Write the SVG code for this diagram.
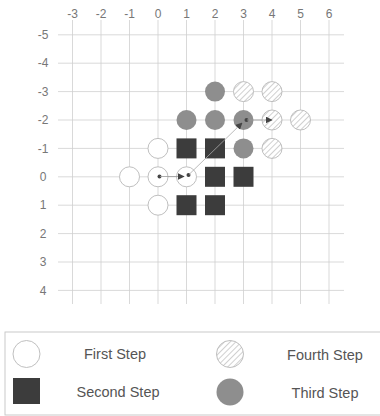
<svg xmlns="http://www.w3.org/2000/svg" width="380" height="416" viewBox="0 0 380 416">
<style>
.grid line{stroke:#cfcfcf;stroke-width:0.8}
.ax{font-family:"Liberation Sans",Arial,sans-serif;font-size:12px;fill:#777;text-anchor:middle}
.s1{fill:#fff;stroke:#b8b8b8;stroke-width:0.9}
.s2{fill:#3c3c3c}
.s3{fill:#8e8e8e}
.s4{fill:url(#hatch);stroke:#b8b8b8;stroke-width:0.9}
.lg{font-family:"Liberation Sans",Arial,sans-serif;font-size:14.5px;fill:#555;text-anchor:middle}
.dot{fill:#444}
</style>
<defs>
<pattern id="hatch" width="4" height="4" patternUnits="userSpaceOnUse" patternTransform="rotate(45)">
<rect width="4" height="4" fill="#fff"/>
<line x1="0" y1="0" x2="0" y2="4" stroke="#b0b0b0" stroke-width="1.2"/>
</pattern>
<marker id="ah" viewBox="0 0 10 10" refX="9" refY="5" markerWidth="7" markerHeight="7" markerUnits="userSpaceOnUse" orient="auto">
<path d="M0,0 L10,5 L0,10 z" fill="#444"/>
</marker>
</defs>
<rect width="380" height="416" fill="#fff"/>
<g class="grid">
<line x1="72.5" y1="20" x2="72.5" y2="304"/>
<line x1="101" y1="20" x2="101" y2="304"/>
<line x1="129.5" y1="20" x2="129.5" y2="304"/>
<line x1="158" y1="20" x2="158" y2="304"/>
<line x1="186.5" y1="20" x2="186.5" y2="304"/>
<line x1="215" y1="20" x2="215" y2="304"/>
<line x1="243.5" y1="20" x2="243.5" y2="304"/>
<line x1="272" y1="20" x2="272" y2="304"/>
<line x1="300.5" y1="20" x2="300.5" y2="304"/>
<line x1="329" y1="20" x2="329" y2="304"/>
<line x1="58" y1="34.8" x2="344" y2="34.8"/>
<line x1="58" y1="63.2" x2="344" y2="63.2"/>
<line x1="58" y1="91.6" x2="344" y2="91.6"/>
<line x1="58" y1="120" x2="344" y2="120"/>
<line x1="58" y1="148.4" x2="344" y2="148.4"/>
<line x1="58" y1="176.8" x2="344" y2="176.8"/>
<line x1="58" y1="205.2" x2="344" y2="205.2"/>
<line x1="58" y1="233.6" x2="344" y2="233.6"/>
<line x1="58" y1="262" x2="344" y2="262"/>
<line x1="58" y1="290.4" x2="344" y2="290.4"/>
</g>
<g id="axis-labels">
<text class="ax" x="72.5" y="17.5">-3</text>
<text class="ax" x="101" y="17.5">-2</text>
<text class="ax" x="129.5" y="17.5">-1</text>
<text class="ax" x="158" y="17.5">0</text>
<text class="ax" x="186.5" y="17.5">1</text>
<text class="ax" x="215" y="17.5">2</text>
<text class="ax" x="243.5" y="17.5">3</text>
<text class="ax" x="272" y="17.5">4</text>
<text class="ax" x="300.5" y="17.5">5</text>
<text class="ax" x="329" y="17.5">6</text>
<text class="ax" x="43" y="39">-5</text>
<text class="ax" x="43" y="67.4">-4</text>
<text class="ax" x="43" y="95.8">-3</text>
<text class="ax" x="43" y="124.2">-2</text>
<text class="ax" x="43" y="152.6">-1</text>
<text class="ax" x="43" y="181">0</text>
<text class="ax" x="43" y="209.4">1</text>
<text class="ax" x="43" y="237.8">2</text>
<text class="ax" x="43" y="266.2">3</text>
<text class="ax" x="43" y="294.6">4</text>
</g>
<g id="n-first-m1-0"><circle class="s1" cx="129.5" cy="176.8" r="10"/></g>
<g id="n-first-0-0"><circle class="s1" cx="158" cy="176.8" r="10"/></g>
<g id="n-first-1-0"><circle class="s1" cx="186.5" cy="176.8" r="10"/></g>
<g id="n-first-0-m1"><circle class="s1" cx="158" cy="148.4" r="10"/></g>
<g id="n-first-0-1"><circle class="s1" cx="158" cy="205.2" r="10"/></g>
<g id="n-second-1-m1"><rect class="s2" x="176.5" y="138.4" width="20" height="20"/></g>
<g id="n-second-2-m1"><rect class="s2" x="205" y="138.4" width="20" height="20"/></g>
<g id="n-second-2-0"><rect class="s2" x="205" y="166.8" width="20" height="20"/></g>
<g id="n-second-3-0"><rect class="s2" x="233.5" y="166.8" width="20" height="20"/></g>
<g id="n-second-1-1"><rect class="s2" x="176.5" y="195.2" width="20" height="20"/></g>
<g id="n-second-2-1"><rect class="s2" x="205" y="195.2" width="20" height="20"/></g>
<g id="n-third-2-m3"><circle class="s3" cx="215" cy="91.6" r="10"/></g>
<g id="n-third-1-m2"><circle class="s3" cx="186.5" cy="120" r="10"/></g>
<g id="n-third-2-m2"><circle class="s3" cx="215" cy="120" r="10"/></g>
<g id="n-third-3-m2"><circle class="s3" cx="243.5" cy="120" r="10"/></g>
<g id="n-third-3-m1"><circle class="s3" cx="243.5" cy="148.4" r="10"/></g>
<g id="n-fourth-3-m3"><circle class="s4" cx="243.5" cy="91.6" r="10"/></g>
<g id="n-fourth-4-m3"><circle class="s4" cx="272" cy="91.6" r="10"/></g>
<g id="n-fourth-4-m2"><circle class="s4" cx="272" cy="120" r="10"/></g>
<g id="n-fourth-5-m2"><circle class="s4" cx="300.5" cy="120" r="10"/></g>
<g id="n-fourth-4-m1"><circle class="s4" cx="272" cy="148.4" r="10"/></g>
<g id="connectors">
<circle class="dot" cx="159.5" cy="176.5" r="2"/>
<line x1="160" y1="176.5" x2="184" y2="176.5" stroke="#999" stroke-width="0.8" marker-end="url(#ah)"/>
<circle class="dot" cx="188.5" cy="175" r="2"/>
<line x1="189" y1="174.5" x2="242" y2="123" stroke="#aaa" stroke-width="0.8" marker-end="url(#ah)"/>
<circle class="dot" cx="246.5" cy="120" r="2"/>
<line x1="247" y1="120" x2="272" y2="120" stroke="#999" stroke-width="0.8" marker-end="url(#ah)"/>
</g>
<g id="legend">
<rect x="5" y="332" width="380" height="83" fill="none" stroke="#c4c4c4" stroke-width="0.9"/>
<circle class="s1" cx="26.5" cy="354" r="13.5"/>
<text class="lg" x="115" y="358.5">First Step</text>
<rect class="s2" x="13" y="378" width="27" height="26"/>
<text class="lg" x="118" y="397">Second Step</text>
<circle class="s4" cx="230" cy="354" r="13.5"/>
<text class="lg" x="325" y="359.5">Fourth Step</text>
<circle class="s3" cx="230" cy="392" r="13.5"/>
<text class="lg" x="325" y="398">Third Step</text>
</g>
</svg>
